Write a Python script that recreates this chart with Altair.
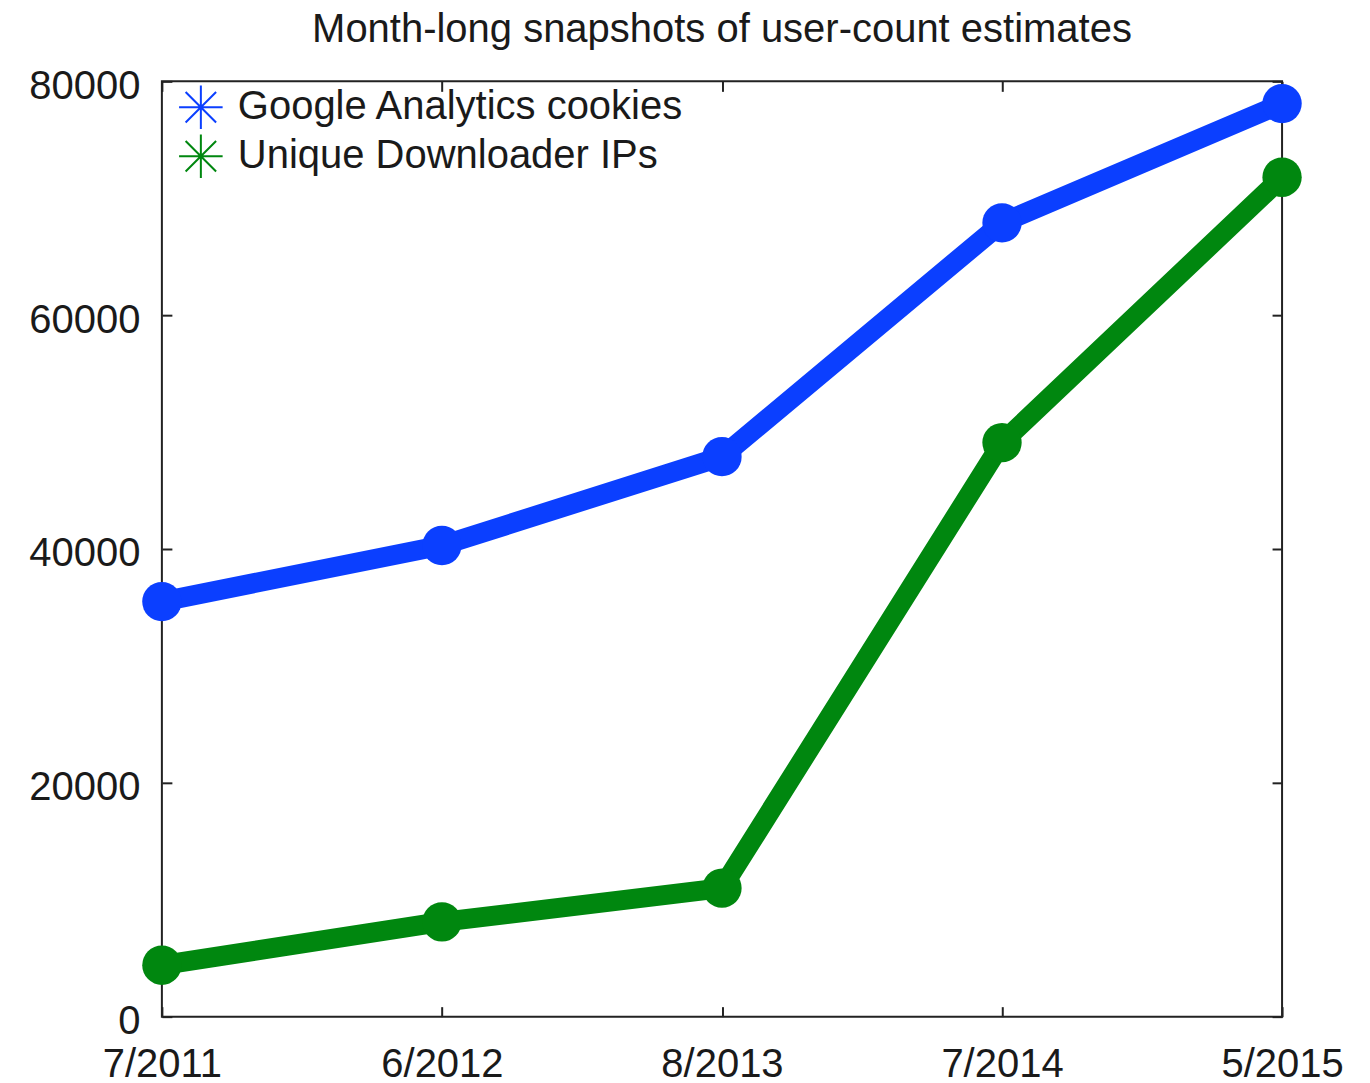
import altair as alt
import pandas as pd

# ---- data ----
dates = ["7/2011", "6/2012", "8/2013", "7/2014", "5/2015"]
series_names = ["Google Analytics cookies", "Unique Downloader IPs"]
ga_cookies = [35500, 40300, 47900, 67900, 78100]
downloader_ips = [4400, 8100, 11000, 49100, 71800]
y_ticks = [0, 20000, 40000, 60000, 80000]
colors = ["#0b3fff", "#00870f"]
title_text = "Month-long snapshots of user-count estimates"

rows = []
for name, vals in zip(series_names, [ga_cookies, downloader_ips]):
    for d, v in zip(dates, vals):
        rows.append({"date": d, "value": v, "series": name})
df = pd.DataFrame(rows)

W, H = 1121, 936
FONT = "Liberation Sans"
FS = 40
TXT = "#1a1a1a"
star = "M-1,0L1,0M0,-1L0,1M-0.7,-0.7L0.7,0.7M-0.7,0.7L0.7,-0.7"

xscale = alt.Scale(type="point", padding=0)
yscale = alt.Scale(domain=[0, 80000], nice=False)
cscale = alt.Scale(domain=series_names, range=colors)

base = alt.Chart(df)

# layer 1: lines + labelled axes + legend
lines = base.mark_line(strokeWidth=20, strokeJoin="round", strokeCap="round").encode(
    x=alt.X("date:O", sort=dates, scale=xscale,
            axis=alt.Axis(orient="bottom", ticks=False, domain=False, grid=False,
                          labelFontSize=FS, labelPadding=28, labelAngle=0,
                          labelFont=FONT, labelColor=TXT, title=None)),
    y=alt.Y("value:Q", scale=yscale,
            axis=alt.Axis(orient="left", values=y_ticks, ticks=False, domain=False,
                          grid=False, labelFontSize=FS, labelPadding=22, labelFont=FONT,
                          labelColor=TXT, labelFlush=False, labelOverlap=False,
                          labelOffset=5, format="d", title=None)),
    color=alt.Color("series:N", scale=cscale, sort=series_names,
                    legend=alt.Legend(orient="none", legendX=16, legendY=3, title=None,
                                      labelFontSize=FS, labelFont=FONT, labelColor=TXT,
                                      symbolType=star, symbolSize=1900, symbolStrokeWidth=2,
                                      labelOffset=14, rowPadding=-3, padding=0, labelLimit=0)),
    detail="series:N",
)

# layer 2: markers + inward ticks on bottom and left edges
points = base.mark_circle(size=1550, opacity=1).encode(
    x=alt.X("date:O", sort=dates, scale=xscale,
            axis=alt.Axis(orient="top", offset=-H, labels=False, domain=False, grid=False,
                          ticks=True, tickSize=10, tickWidth=2, tickColor="#222", title=None)),
    y=alt.Y("value:Q", scale=yscale,
            axis=alt.Axis(orient="right", offset=-W, values=y_ticks, labels=False,
                          domain=False, grid=False, ticks=True, tickSize=10, tickWidth=2,
                          tickColor="#222", title=None)),
    color=alt.Color("series:N", scale=cscale, sort=series_names, legend=None),
)

# layer 3: invisible, inward ticks on top and right edges
ghost = base.mark_circle(size=1, opacity=0).encode(
    x=alt.X("date:O", sort=dates, scale=xscale,
            axis=alt.Axis(orient="bottom", offset=-H, labels=False, domain=False, grid=False,
                          ticks=True, tickSize=10, tickWidth=2, tickColor="#222", title=None)),
    y=alt.Y("value:Q", scale=yscale,
            axis=alt.Axis(orient="left", offset=-W, values=y_ticks, labels=False,
                          domain=False, grid=False, ticks=True, tickSize=10, tickWidth=2,
                          tickColor="#222", title=None)),
)

chart = alt.layer(ghost, lines, points).resolve_axis(x="independent", y="independent").properties(
    width=W, height=H,
    autosize=alt.AutoSizeParams(type="none"),
    padding={"left": 154, "top": 73, "right": 80, "bottom": 70},
    title=alt.TitleParams(title_text, fontSize=FS, fontWeight="normal", font=FONT,
                          color=TXT, anchor="middle", offset=16),
).configure_view(stroke="#222", strokeWidth=2).configure_title(fontSize=FS)

chart.save("out.html", embed_options={"renderer": "svg", "actions": False})
